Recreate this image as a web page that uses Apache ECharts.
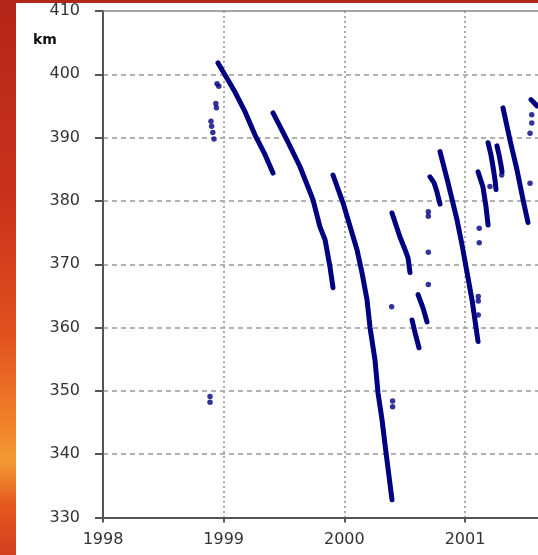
<!DOCTYPE html>
<html>
<head>
<meta charset="utf-8">
<script src="https://cdn.jsdelivr.net/npm/echarts@6/dist/echarts.min.js"></script>
<style>
    body { margin: 0; }
    #back {
        position: absolute; left: 0; top: 0; width: 538px; height: 555px;
        background: linear-gradient(180deg, #b4261a 0%, #c8321c 35%, #e0501f 60%, #f0802a 76%, #f39a34 83%, #e4581f 91%, #d0401e 100%);
    }
    #panel { position: absolute; left: 16px; top: 3px; width: 522px; height: 552px; background: #ffffff; }
    #main { position: absolute; left: 0; top: 0; width: 538px; height: 555px; }
</style>
</head>
<body>
<div id="back"></div>
<div id="panel"></div>
<div id="main"></div>
<script>
// altitude (km) against time (year)
const yearTicks = [1998, 1999, 2000, 2001]
const kmTicks = [330, 340, 350, 360, 370, 380, 390, 400, 410]

// decay runs between reboosts
const run1 = [[1998.953, 401.8], [1999.094, 397.2], [1999.177, 394.1], [1999.26, 390.4], [1999.343, 387.3], [1999.409, 384.4]]
const run2 = [[1999.409, 393.9], [1999.525, 389.6], [1999.633, 385.4], [1999.74, 380.2], [1999.798, 375.9], [1999.84, 373.9], [1999.881, 369.6], [1999.906, 366.3]]
const run3 = [[1999.906, 384.1], [1999.989, 379.7], [2000.105, 372.3], [2000.146, 368.7], [2000.188, 364.4], [2000.213, 360.0], [2000.254, 354.9], [2000.279, 349.7], [2000.312, 345.5], [2000.345, 340.3], [2000.395, 332.8]]
const run4 = [[2000.395, 378.1], [2000.461, 374.3], [2000.503, 372.3], [2000.528, 371.0], [2000.544, 368.7]]
const run5 = [[2000.561, 361.2], [2000.586, 359.2], [2000.619, 356.8]]
const run6 = [[2000.611, 365.2], [2000.652, 363.1], [2000.685, 360.9]]
const run7 = [[2000.71, 383.8], [2000.743, 382.9], [2000.768, 381.4], [2000.793, 379.5]]
const run8 = [[2000.793, 387.8], [2000.859, 382.9], [2000.934, 377.0], [2000.975, 373.1], [2001.017, 368.7], [2001.058, 364.4], [2001.108, 357.8]]
const run9 = [[2001.108, 384.6], [2001.149, 382.2], [2001.174, 379.1], [2001.191, 376.2]]
const run10 = [[2001.191, 389.2], [2001.215, 387.3], [2001.232, 385.4], [2001.249, 383.3], [2001.257, 381.8]]
const run11 = [[2001.265, 388.7], [2001.282, 387.3], [2001.298, 385.7], [2001.307, 384.6]]
const run12 = [[2001.315, 394.7], [2001.373, 389.6], [2001.431, 384.9], [2001.481, 380.2], [2001.522, 376.6]]
const run13 = [[2001.547, 396.0], [2001.572, 395.5], [2001.597, 395.0]]

// single readings
const loosePoints = [
    [1998.887, 349.1], [1998.887, 348.2],
    [1998.895, 392.6], [1998.9, 391.8], [1998.91, 390.8], [1998.92, 389.8],
    [1998.935, 395.4], [1998.94, 394.7], [1998.945, 398.5], [1998.96, 398.1],
    [2000.392, 363.3], [2000.4, 348.4], [2000.4, 347.5],
    [2000.696, 378.3], [2000.696, 377.6], [2000.696, 371.9], [2000.696, 366.8],
    [2001.11, 364.9], [2001.11, 364.2], [2001.11, 362.0],
    [2001.118, 375.7], [2001.118, 373.4], [2001.207, 382.3], [2001.304, 384.1],
    [2001.553, 393.6], [2001.553, 392.3], [2001.539, 390.7], [2001.539, 382.8]
]

const runs = [run1, run2, run3, run4, run5, run6, run7, run8, run9, run10, run11, run12, run13]
const navy = '#000080'

const chart = echarts.init(document.getElementById('main'), null, { renderer: 'canvas' })

var series = runs.map(function (r) {
    return {
        type: 'line',
        data: r,
        symbol: 'none',
        silent: true,
        lineStyle: { color: navy, width: 5, cap: 'round', join: 'round' },
        z: 3
    }
})
series.push({
    type: 'scatter',
    data: loosePoints,
    symbolSize: 5.5,
    itemStyle: { color: navy },
    z: 3
})

var option = {
    backgroundColor: 'transparent',
    animation: false,
    grid: { left: 103, right: 0, top: 11, bottom: 37.5 },
    graphic: [{
        type: 'text',
        left: 33,
        top: 33,
        style: { text: 'km', font: 'bold 14px "DejaVu Sans"', fill: '#111' }
    }],
    xAxis: [{
        type: 'value',
        min: yearTicks[0],
        max: 2001.605,
        interval: 1,
        axisLine: { lineStyle: { color: '#555', width: 2 } },
        axisTick: { length: 5, lineStyle: { color: '#555', width: 2 } },
        axisLabel: {
            margin: 14,
            showMaxLabel: false,
            color: '#333',
            fontFamily: 'DejaVu Sans',
            fontSize: 16,
            formatter: function (v) { return yearTicks.indexOf(v) >= 0 ? String(v) : '' }
        },
        splitLine: { show: true, showMaxLine: false, lineStyle: { color: '#aaa', type: [2, 3], width: 2 } }
    }, {
        type: 'value',
        position: 'top',
        min: yearTicks[0],
        max: 2001.605,
        axisLine: { show: true, lineStyle: { color: '#888', width: 1.5 } },
        axisTick: { show: false },
        axisLabel: { show: false },
        splitLine: { show: false }
    }],
    yAxis: {
        type: 'value',
        min: kmTicks[0],
        max: kmTicks[kmTicks.length - 1],
        interval: 10,
        axisLine: { show: true, lineStyle: { color: '#555', width: 2 } },
        axisTick: { show: true, length: 8, lineStyle: { color: '#555', width: 2 } },
        axisLabel: { margin: 23, color: '#333', fontFamily: 'DejaVu Sans', fontSize: 16 },
        splitLine: { show: true, showMaxLine: false, lineStyle: { color: '#999', type: [5, 4], width: 1.5 } }
    },
    series: series
}
chart.setOption(option)
</script>
</body>
</html>
